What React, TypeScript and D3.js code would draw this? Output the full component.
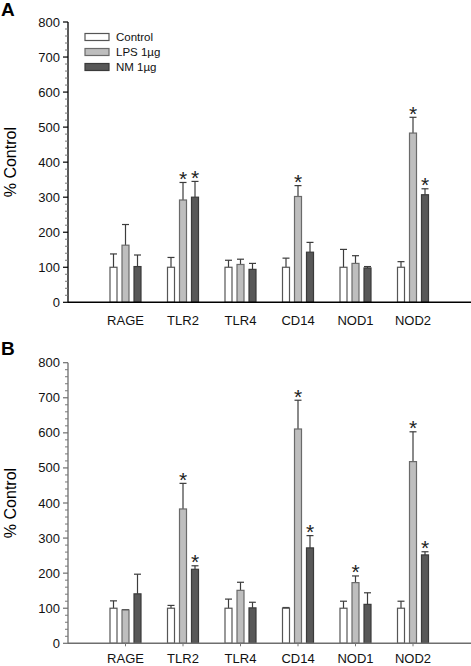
import React from "react";
import * as d3 from "d3";

const categories = ["RAGE", "TLR2", "TLR4", "CD14", "NOD1", "NOD2"];
const seriesNames = ["Control", "LPS 1µg", "NM 1µg"];
const yTicks = [0, 100, 200, 300, 400, 500, 600, 700, 800];

// Panel A
const aControl = [100, 100, 100, 100, 100, 100];
const aControlErr = [138, 128, 120, 126, 151, 116];
const aLps = [163, 292, 108, 302, 111, 483];
const aLpsErr = [222, 342, 123, 333, 133, 528];
const aNm = [102, 300, 94, 143, 98, 307];
const aNmErr = [135, 345, 111, 171, 102, 324];
const aLpsSig = [false, true, false, true, false, true];
const aNmSig = [false, true, false, false, false, true];

// Panel B
const bControl = [100, 100, 100, 100, 100, 100];
const bControlErr = [121, 108, 126, 102, 120, 120];
const bLps = [95, 383, 151, 611, 173, 518];
const bLpsErr = [96, 456, 174, 693, 192, 603];
const bNm = [141, 211, 101, 272, 111, 252];
const bNmErr = [197, 221, 117, 307, 144, 261];
const bLpsSig = [false, true, false, true, true, true];
const bNmSig = [false, true, false, true, false, true];

const fills = ["#ffffff", "#bebebe", "#585858"];
const strokes = ["#555555", "#6a6a6a", "#3a3a3a"];
const FONT = "Arial, 'Liberation Sans', Helvetica, sans-serif";

type Panel = {
  label: string;
  top: number;
  bottom: number;
  axisColor: string;
  catTicks: boolean;
  labelY: number;
  letterY: number;
  values: number[][];
  errs: number[][];
  sigs: (boolean[] | null)[];
};

const panels: Panel[] = [
  {
    label: "A",
    top: 22,
    bottom: 302.3,
    axisColor: "#000000",
    catTicks: false,
    labelY: 324.5,
    letterY: 16,
    values: [aControl, aLps, aNm],
    errs: [aControlErr, aLpsErr, aNmErr],
    sigs: [null, aLpsSig, aNmSig],
  },
  {
    label: "B",
    top: 362.7,
    bottom: 643.3,
    axisColor: "#6e6e6e",
    catTicks: true,
    labelY: 662.5,
    letterY: 355,
    values: [bControl, bLps, bNm],
    errs: [bControlErr, bLpsErr, bNmErr],
    sigs: [null, bLpsSig, bNmSig],
  },
];

const AXIS_X = 68;
const AXIS_END = 471;

function PanelView({ p }: { p: Panel }) {
  const x = d3.scaleLinear().domain([0, 7]).range([AXIS_X, AXIS_END - 0.5]);
  const y = d3.scaleLinear().domain([0, 800]).range([p.bottom, p.top]);
  const minor = d3.range(0, 801, 20).filter((v) => v % 100 !== 0);
  const offsets = [-12, 0, 12];
  const bw = 7;
  const midY = (p.top + p.bottom) / 2;
  return (
    <g>
      <text x={1} y={p.letterY} fontFamily={FONT} fontWeight="bold" fontSize={19}>
        {p.label}
      </text>
      <text
        transform={`translate(16,${midY}) rotate(-90)`}
        textAnchor="middle"
        fontFamily={FONT}
        fontSize={16}
      >
        % Control
      </text>
      {categories.map((c, i) =>
        p.values.map((vals, s) => {
          const cx = x(i + 1) + offsets[s];
          const v = vals[i];
          const e = p.errs[s][i];
          const sig = p.sigs[s] ? p.sigs[s]![i] : false;
          return (
            <g key={`${c}-${s}`}>
              {e > v && (
                <g stroke="#3c3c3c" strokeWidth={1.2}>
                  <line x1={cx} x2={cx} y1={y(v)} y2={y(e)} />
                  <line x1={cx - 3.5} x2={cx + 3.5} y1={y(e)} y2={y(e)} />
                </g>
              )}
              <rect
                x={cx - bw / 2}
                y={y(v)}
                width={bw}
                height={y(0) - y(v)}
                fill={fills[s]}
                stroke={strokes[s]}
                strokeWidth={1.2}
              />
              {sig && (
                <text
                  x={cx}
                  y={y(e) + 3.5}
                  textAnchor="middle"
                  fontFamily={FONT}
                  fontSize={21}
                  fill="#222"
                >
                  *
                </text>
              )}
            </g>
          );
        })
      )}
      <line x1={AXIS_X} x2={AXIS_X} y1={p.top} y2={p.bottom} stroke={p.axisColor} strokeWidth={1.3} />
      {yTicks.map((t) => (
        <g key={t}>
          <line x1={AXIS_X - 5} x2={AXIS_X} y1={y(t)} y2={y(t)} stroke={p.axisColor} strokeWidth={1.2} />
          <text
            x={AXIS_X - 8}
            y={y(t)}
            dy="0.35em"
            textAnchor="end"
            fontFamily={FONT}
            fontSize={13}
            fill="#111"
          >
            {t}
          </text>
        </g>
      ))}
      {minor.map((t) => (
        <line key={t} x1={AXIS_X - 3} x2={AXIS_X} y1={y(t)} y2={y(t)} stroke="#777" strokeWidth={1} />
      ))}
      <line x1={AXIS_X} x2={AXIS_END} y1={p.bottom} y2={p.bottom} stroke={p.axisColor} strokeWidth={1.4} />
      {categories.map((c, i) => (
        <g key={c}>
          {p.catTicks && (
            <line x1={x(i + 1)} x2={x(i + 1)} y1={p.bottom} y2={p.bottom + 3} stroke="#777" strokeWidth={1} />
          )}
          <text x={x(i + 1)} y={p.labelY} textAnchor="middle" fontFamily={FONT} fontSize={13} fill="#111">
            {c}
          </text>
        </g>
      ))}
    </g>
  );
}

function Legend() {
  return (
    <g>
      {seriesNames.map((n, i) => (
        <g key={n} transform={`translate(85,${33.5 + i * 15})`}>
          <rect x={0} y={0} width={24} height={7} fill={fills[i]} stroke={strokes[i]} strokeWidth={1.2} />
          <text x={31} y={3.5} dy="0.35em" fontFamily={FONT} fontSize={11.5} fill="#111">
            {n}
          </text>
        </g>
      ))}
    </g>
  );
}

export default function App() {
  return (
    <svg
      width={471}
      height={666}
      style={{ position: "absolute", left: 0, top: 0, background: "#fff" }}
    >
      <rect width={471} height={666} fill="#fff" />
      {panels.map((p) => (
        <PanelView key={p.label} p={p} />
      ))}
      <Legend />
    </svg>
  );
}
